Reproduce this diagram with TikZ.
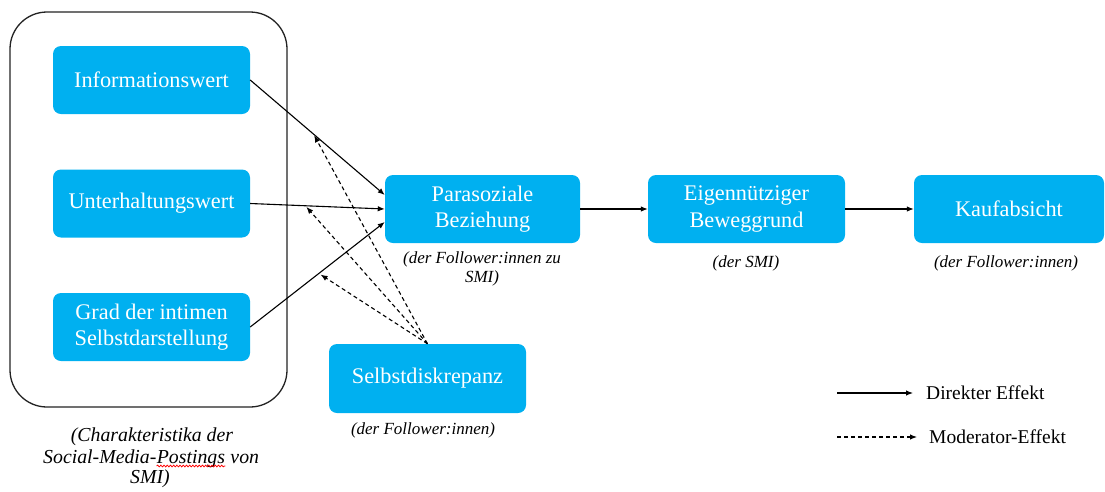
\documentclass[tikz,border=0pt]{standalone}
\usepackage{fontspec}
\setmainfont{Liberation Serif}
\usetikzlibrary{arrows.meta,calc,decorations.pathmorphing}
\definecolor{boxblue}{RGB}{0,176,240}
\definecolor{frame}{RGB}{35,35,35}
\begin{document}
\begin{tikzpicture}[x=1pt,y=-1pt,
  mainbox/.style={rectangle, rounded corners=8pt, fill=boxblue, text=white,
    minimum width=197pt, minimum height=68pt, inner sep=0pt, align=center,
    font=\fontsize{22.3}{26.5}\selectfont},
  groupbox/.style={draw=frame, line width=1.3pt, rounded corners=37pt,
    minimum width=277pt, minimum height=395pt, inner sep=0pt},
  note/.style={align=center, inner sep=0pt, font=\fontsize{17}{19}\selectfont\itshape},
  bignote/.style={note, font=\fontsize{19.8}{20.5}\selectfont\itshape},
  wordpart/.style={bignote, anchor=base west},
  direct/.style={line width=1.1pt, -{Latex[length=7pt,width=5.5pt]}},
  moder/.style={line width=1.1pt, dash pattern=on 4pt off 3pt, -{Latex[length=7pt,width=5.5pt]}},
  legtext/.style={anchor=west, inner sep=0pt, font=\fontsize{19.5}{22}\selectfont},
  spellmark/.style={red, line width=0.75pt, decorate,
    decoration={snake, amplitude=0.9pt, segment length=3.2pt}}
]
\useasboundingbox (0,0) rectangle (1105,491);

% group frame
\node[groupbox] (group) at (148.5,209.5) {};

% boxes
\node[mainbox] (info) at (151.5,80) {Informationswert};
\node[mainbox] (unter) at (151.5,203.5) {Unterhaltungswert};
\node[mainbox] (grad) at (151.5,327) {Grad der intimen\\Selbstdarstellung};
\node[mainbox, minimum width=195pt] (paras) at (482.5,209) {Parasoziale\\Beziehung};
\node[mainbox] (eigen) at (746.5,209) {Eigennütziger\\Beweggrund};
\node[mainbox, minimum width=190pt] (kauf) at (1009,209) {Kaufabsicht};
\node[mainbox, minimum height=69pt] (selbst) at (427.5,378.5) {Selbstdiskrepanz};

% notes
\node[note] (nparas) at (482,269) {(der Follower:innen zu\\SMI)};
\node[note] (neigen) at (746,263) {(der SMI)};
\node[note] (nkauf) at (1006,263) {(der Follower:innen)};
\node[note] (nselbst) at (423,430) {(der Follower:innen)};
\node[bignote] (ngroupa) at (152,437) {(Charakteristika der};
\node[wordpart] (ngroupb) at (43,463) {Social-Media-};
\node[wordpart] (ngroupp) at (ngroupb.base east) {Postings};
\node[wordpart] (ngroupv) at ($(ngroupp.base east)+(5pt,0pt)$) {von};
\node[bignote] (ngroupc) at (150,479) {SMI)};
\coordinate (wa) at ($(ngroupp.base west)+(0pt,-3pt)$);
\coordinate (wb) at ($(ngroupp.base east)+(0pt,-3pt)$);
\draw[spellmark] (wa) -- (wb);

% direct effects
\coordinate (pin1) at ($(paras.west)+(0,-14)$);
\coordinate (pin3) at ($(paras.west)+(0,13)$);
\draw[direct] (info.east) -- (pin1);
\draw[direct] (unter.east) -- (paras.west);
\draw[direct] (grad.east) -- (pin3);
\draw[direct] (paras.east) -- (eigen.west);
\draw[direct] (eigen.east) -- (kauf.west);

% moderator effects
\coordinate (m1) at ($(info.east)!0.47!(pin1)$);
\coordinate (m2) at ($(unter.east)!0.41!(paras.west)$);
\coordinate (m3) at ($(grad.east)!0.51!(pin3)$);
\draw[moder, shorten >=1.5pt] (selbst.north) -- (m1);
\draw[moder, shorten >=1.5pt] (selbst.north) -- (m2);
\draw[moder, shorten >=2pt] (selbst.north) -- (m3);

% legend
\coordinate (d1) at (837,393);
\coordinate (d2) at (913,393);
\node[legtext] (dtext) at (926,393) {Direkter Effekt};
\draw[direct] (d1) -- (d2);
\coordinate (k1) at (837,437);
\coordinate (k2) at (917,437);
\node[legtext] (ktext) at (929,437) {Moderator-Effekt};
\draw[moder] (k1) -- (k2);
\end{tikzpicture}
\end{document}
